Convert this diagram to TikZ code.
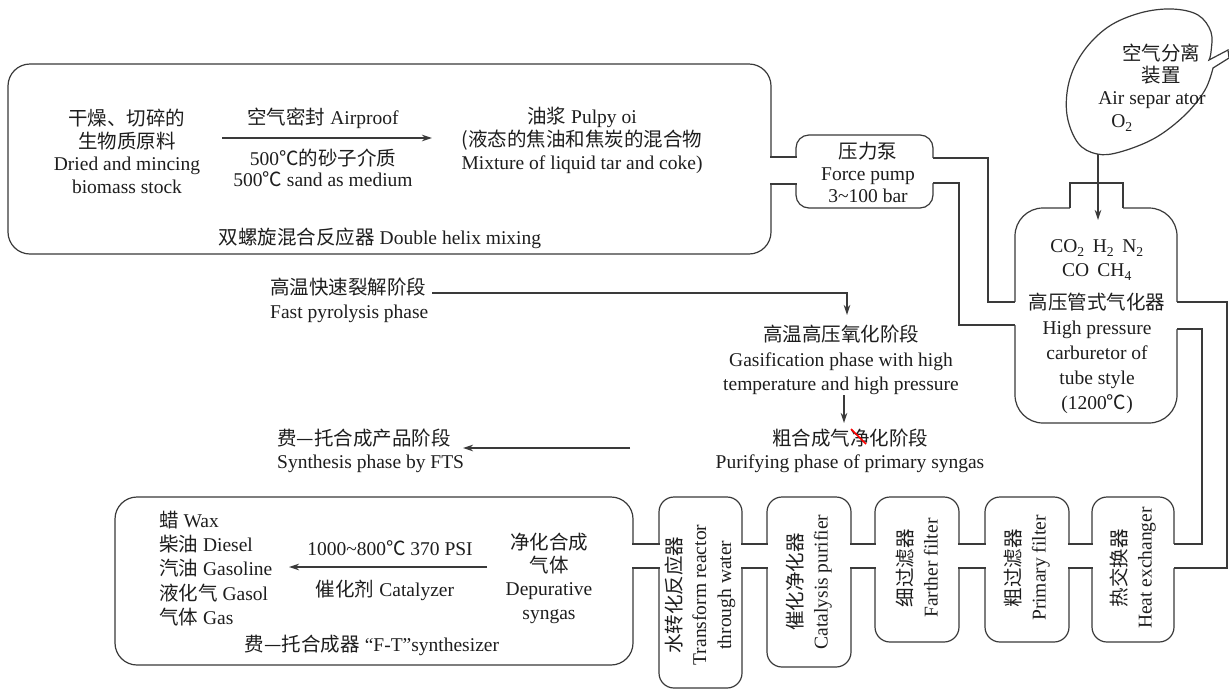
\documentclass[tikz,border=0pt]{standalone}
\usepackage{fontspec}
\setmainfont{Liberation Serif}
\newfontfamily\cjk{Noto Sans CJK SC}
\usetikzlibrary{arrows.meta,calc}
\newcommand{\zhtxt}[1]{{\cjk #1}}
\definecolor{ln}{HTML}{3A3A3A}
\definecolor{tx}{HTML}{1E1E1E}
\newcommand{\hpipe}[4]{%
  \fill[white] (#1-3,#3) rectangle (#2+3,#4);
  \draw[line,line cap=rect] (#1,#3)--(#2,#3) (#1,#4)--(#2,#4);}
\begin{document}
\begin{tikzpicture}[x=1pt,y=-1pt,
  line/.style={draw=ln,line width=1.2pt},
  boxr/.style={draw=ln,line width=1.2pt,fill=white,rectangle,rounded corners=#1,inner sep=0pt},
  txt/.style={text=tx,inner sep=0pt,align=center,font=\fontsize{19.5}{23}\selectfont},
  arr/.style={draw=ln,line width=1.1pt,-{Stealth[length=10pt,width=6.5pt,inset=3pt]}},
]
\useasboundingbox[fill=white] (0,0) rectangle (1229,689);

% ---------- boxes ----------
\node[boxr=22pt,minimum width=763pt,minimum height=190pt] (top) at (389.5,159) {};
\node[boxr=13pt,minimum width=137pt,minimum height=73pt] (pump) at (864.5,171.5) {};
\node[boxr=28pt,minimum width=162pt,minimum height=215pt] (gas) at (1096,315.5) {};
\node[boxr=22pt,minimum width=518pt,minimum height=168pt] (ft) at (374,581) {};
\node[boxr=15pt,minimum width=83pt,minimum height=191pt] (tr) at (700.5,592.5) {};
\node[boxr=15pt,minimum width=84pt,minimum height=170pt] (cp) at (809,582) {};
\node[boxr=15pt,minimum width=84pt,minimum height=145pt] (ff) at (917,569.5) {};
\node[boxr=15pt,minimum width=84pt,minimum height=145pt] (pf) at (1027,569.5) {};
\node[boxr=15pt,minimum width=82pt,minimum height=145pt] (he) at (1133,569.5) {};

% air separator bubble
\draw[line,fill=white] plot[smooth,tension=0.6] coordinates {(1213,68) (1205,90) (1185,115) (1155,138) (1120,152) (1097,154) (1078,143) (1067,115) (1069,82) (1083,52) (1108,27) (1140,13) (1172,9) (1198,15) (1211,32) (1211,52) (1209,60)} -- (1228,50) -- (1229,58) -- cycle;

% ---------- pipes ----------
\hpipe{771}{796}{157}{184}
\hpipe{633}{659}{544}{568}
\hpipe{742}{767}{544}{568}
\hpipe{851}{875}{544}{568}
\hpipe{959}{985}{544}{568}
\hpipe{1069}{1092}{544}{568}

\fill[white] (930,158) -- (988,158) -- (988,302) -- (1018,302) -- (1018,325) -- (959,325) -- (959,183) -- (930,183) -- cycle;
\draw[line] (933,158) -| (988,302) -- (1015,302);
\draw[line] (933,183) -| (959,325) -- (1015,325);

\fill[white] (1174,302) -- (1227,302) -- (1227,568) -- (1171,568) -- (1171,544) -- (1202,544) -- (1202,329) -- (1174,329) -- cycle;
\draw[line] (1177,302) -| (1227,568) -- (1174,568);
\draw[line] (1177,329) -| (1202,544) -- (1174,544);

\fill[white] (1070,183) rectangle (1123,211);
\draw[line] (1070,208) |- (1123,183) -- (1123,208);

% ---------- texts: top reactor ----------
\node[txt,font=\fontsize{19.5}{22.5}\selectfont] (bio) at (127,151.5) {\zhtxt{干燥、切碎的}\\\zhtxt{生物质原料}\\Dried and mincing\\biomass stock};
\node[txt] (airp) at (323,118) {\zhtxt{空气密封} Airproof};
\node[txt,font=\fontsize{19.5}{21.5}\selectfont] (sand) at (323,168) {500\zhtxt{℃的砂子介质}\\500\zhtxt{℃} sand as medium};
\node[txt] (pulpy) at (582,140) {\zhtxt{油浆} Pulpy oi\\\zhtxt{(液态的焦油和焦炭的混合物}\\Mixture of liquid tar and coke)};
\node[txt] (helix) at (380,238) {\zhtxt{双螺旋混合反应器} Double helix mixing};
\coordinate (a1s) at (222,138);
\coordinate (a1e) at (432,138);
\draw[arr] (a1s) -- (a1e);

% pump
\node[txt,font=\fontsize{19.5}{22}\selectfont] (pumpt) at (868,172) {\zhtxt{压力泵}\\Force pump\\3\textasciitilde100 bar};

% air separator
\node[txt,font=\fontsize{19.5}{22}\selectfont] (ast1) at (1161,64) {\zhtxt{空气分离}\\\zhtxt{装置}};
\node[txt] (ast2) at (1152,100) {Air separ ator};
\node[txt] (ast3) at (1122,123) {O\textsubscript{2}};
\coordinate (asb) at (1098,154);
\coordinate (gtop) at (1098,220);
\draw[arr] (asb) -- (gtop);

% gasifier
\node[txt,font=\fontsize{19.5}{24}\selectfont] (gast1) at (1097,260) {CO\textsubscript{2}\, H\textsubscript{2}\, N\textsubscript{2}\\CO\, CH\textsubscript{4}};
\node[txt,font=\fontsize{19.5}{25}\selectfont] (gast2) at (1097,353) {\zhtxt{高压管式气化器}\\High pressure\\carburetor of\\tube style\\(1200\zhtxt{℃})};

% phases
\node[txt,align=left,anchor=west,font=\fontsize{19.5}{24}\selectfont] (fp) at (270,300) {\zhtxt{高温快速裂解阶段}\\Fast pyrolysis phase};
\node[txt,font=\fontsize{19.5}{24.5}\selectfont] (gp) at (841,360) {\zhtxt{高温高压氧化阶段}\\Gasification phase with high\\temperature and high pressure};
\node[txt,font=\fontsize{19.5}{22.5}\selectfont] (pu) at (850,451) {\zhtxt{粗合成气净化阶段}\\Purifying phase of primary syngas};
\node[txt,align=left,anchor=west,font=\fontsize{19.5}{22.5}\selectfont] (fts) at (277,451) {\zhtxt{费—托合成产品阶段}\\Synthesis phase by FTS};
\draw[red,line width=1.6pt] (851,429) -- (866,444);

\coordinate (a2s) at (432,293);
\coordinate (a2e) at (847,315);
\draw[arr] (a2s) -| (a2e);
\coordinate (a3s) at (844,395);
\coordinate (a3e) at (844,423);
\draw[arr] (a3s) -- (a3e);
\coordinate (a4s) at (630,448);
\coordinate (a4e) at (463,448);
\draw[arr] (a4s) -- (a4e);

% F-T synthesizer
\node[txt,align=left,anchor=west,font=\fontsize{19.5}{24.3}\selectfont] (prod) at (159,568.5) {\zhtxt{蜡} Wax\\\zhtxt{柴油} Diesel\\\zhtxt{汽油} Gasoline\\\zhtxt{液化气} Gasol\\\zhtxt{气体} Gas};
\node[txt] (cond) at (390,548) {1000\textasciitilde800\zhtxt{℃} 370 PSI};
\node[txt] (cat) at (385,590) {\zhtxt{催化剂} Catalyzer};
\node[txt,font=\fontsize{19.5}{23.3}\selectfont] (dep) at (549,578) {\zhtxt{净化合成}\\\zhtxt{气体}\\Depurative\\syngas};
\node[txt] (ftl) at (372,645) {\zhtxt{费—托合成器} “F-T”synthesizer};
\coordinate (a5s) at (487,567);
\coordinate (a5e) at (289,567);
\draw[arr] (a5s) -- (a5e);

% vertical boxes text
\node[txt,rotate=90,font=\fontsize{19.5}{25}\selectfont] (trt) at (700,595) {\zhtxt{水转化反应器}\\Transform reactor\\through water};
\node[txt,rotate=90,font=\fontsize{19.5}{25}\selectfont] (cpt) at (809,582) {\zhtxt{催化净化器}\\Catalysis purifier};
\node[txt,rotate=90,font=\fontsize{19.5}{25}\selectfont] (fft) at (917,568) {\zhtxt{细过滤器}\\Farther filter};
\node[txt,rotate=90,font=\fontsize{19.5}{25}\selectfont] (pft) at (1027,568) {\zhtxt{粗过滤器}\\Primary filter};
\node[txt,rotate=90,font=\fontsize{19.5}{25}\selectfont] (het) at (1133,568) {\zhtxt{热交换器}\\Heat exchanger};
\end{tikzpicture}
\end{document}
